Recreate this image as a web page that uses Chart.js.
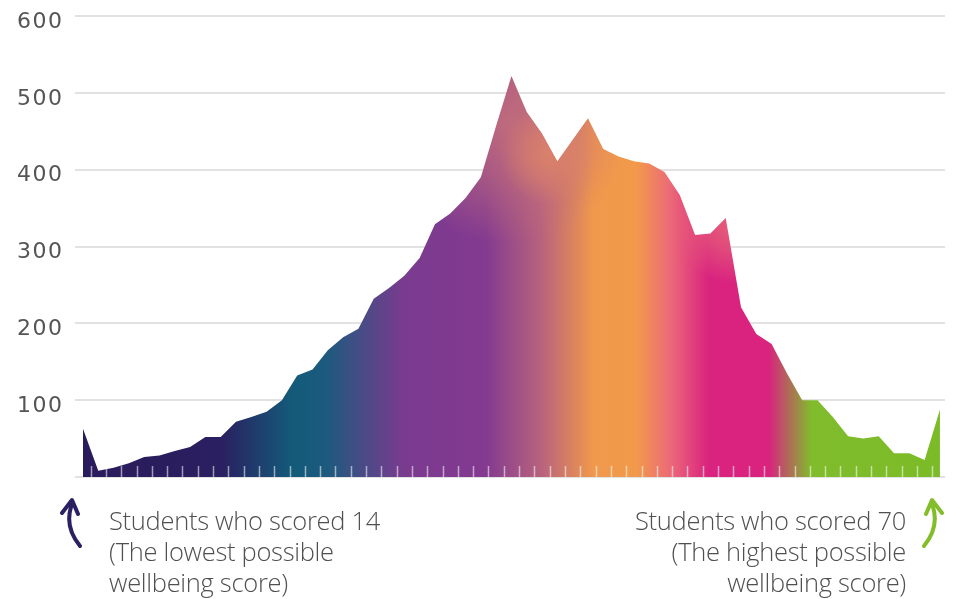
<!DOCTYPE html>
<html>
<head>
<meta charset="utf-8">
<script src="https://cdn.jsdelivr.net/npm/chart.js@4.4.0/dist/chart.umd.min.js"></script>
<style>
  html, body { margin: 0; padding: 0; background: #fff; }
  #wrap { position: relative; width: 953px; height: 599px; }
  #arrows { position: absolute; left: 0; top: 0; }
  .note {
    position: absolute;
    font-family: 'Open Sans', sans-serif;
    font-weight: 300;
    font-size: 25.5px;
    line-height: 31px;
    letter-spacing: -0.3px;
    color: #505050;
    white-space: nowrap;
  }
</style>
</head>
<body>
<div id="wrap">
  <canvas id="wellbeingChart" width="953" height="599"></canvas>
  <svg id="arrows" width="953" height="599">
    <path d="M80 546 C 70 534, 66 520, 72 504" fill="none" stroke="#2b2162" stroke-width="4" stroke-linecap="round"/>
    <path d="M62 513 L72 500 L78 514" fill="none" stroke="#2b2162" stroke-width="4" stroke-linecap="round" stroke-linejoin="round"/>
    <path d="M924 546 C 934 534, 938 520, 932 504" fill="none" stroke="#84bd2a" stroke-width="4" stroke-linecap="round"/>
    <path d="M942 513 L932 500 L926 514" fill="none" stroke="#84bd2a" stroke-width="4" stroke-linecap="round" stroke-linejoin="round"/>
  </svg>
  <div class="note" style="left:109px; top:505px;">Students who scored 14<br>(The lowest possible<br>wellbeing score)</div>
  <div class="note" style="right:47px; top:505px; text-align:right;">Students who scored 70<br>(The highest possible<br>wellbeing score)</div>
</div>
<script>
// wellbeing score (14 = lowest, 70 = highest)
var scores = [14, 15, 16, 17, 18, 19, 20, 21, 22, 23, 24, 25, 26, 27, 28, 29, 30, 31, 32,
              33, 34, 35, 36, 37, 38, 39, 40, 41, 42, 43, 44, 45, 46, 47, 48, 49, 50, 51,
              52, 53, 54, 55, 56, 57, 58, 59, 60, 61, 62, 63, 64, 65, 66, 67, 68, 69, 70];
// number of students with each score
var students = [63, 8, 12, 18, 26, 28, 34, 39, 52, 52, 72, 78, 85, 100, 132, 140, 165, 182, 193,
                232, 246, 262, 285, 329, 343, 363, 390, 457, 522, 475, 447, 411, 439, 467, 427, 417, 411, 408,
                397, 367, 315, 317, 337, 221, 186, 173, 135, 100, 100, 78, 53, 50, 53, 31, 31, 22, 88];
var yTicks = [0, 100, 200, 300, 400, 500, 600];

// colour bands of the fill, left to right
var fillStops = [
  [0.00, '#2a1b5c'],
  [0.16, '#2a1f60'],
  [0.245, '#135b79'],
  [0.285, '#1d5a7e'],
  [0.375, '#7a3b8f'],
  [0.47, '#833a90'],
  [0.535, '#b8637d'],
  [0.595, '#f0984c'],
  [0.645, '#f29a4a'],
  [0.685, '#ec6a78'],
  [0.73, '#d9237f'],
  [0.80, '#d9237f'],
  [0.85, '#80bc2c'],
  [1.00, '#7cbb28']
];
// soft colour patches that tint the top of the fill: [score, value, radius in px, colour]
var tintPatches = [
  [41.8, 460, 120, '198,112,122'],
  [44.5, 420, 50, '222,132,104'],
  [56.5, 330, 60, '232,104,120']
];

var fillCache = null;
function areaFill(chart) {
  var key = chart.width + 'x' + chart.height;
  if (fillCache && fillCache.key === key) return fillCache.pattern;
  var xs = chart.scales.x, ys = chart.scales.y;
  var off = document.createElement('canvas');
  off.width = chart.width;
  off.height = chart.height;
  var c = off.getContext('2d');
  var g = c.createLinearGradient(xs.getPixelForValue(scores[0]), 0,
                                 xs.getPixelForValue(scores[scores.length - 1]), 0);
  fillStops.forEach(function(s) { g.addColorStop(s[0], s[1]); });
  c.fillStyle = g;
  c.fillRect(0, 0, off.width, off.height);
  tintPatches.forEach(function(p) {
    var px = xs.getPixelForValue(p[0]), py = ys.getPixelForValue(p[1]);
    var r = c.createRadialGradient(px, py, 0, px, py, p[2]);
    r.addColorStop(0, 'rgba(' + p[3] + ',0.85)');
    r.addColorStop(0.45, 'rgba(' + p[3] + ',0.55)');
    r.addColorStop(1, 'rgba(' + p[3] + ',0)');
    c.fillStyle = r;
    c.fillRect(0, 0, off.width, off.height);
  });
  fillCache = { key: key, pattern: chart.ctx.createPattern(off, 'no-repeat') };
  return fillCache.pattern;
}

var tickMarks = {
  id: 'tickMarks',
  beforeDraw: function(chart) {
    chart.ctx.letterSpacing = '1.5px';
  },
  afterDatasetsDraw: function(chart) {
    var ctx = chart.ctx;
    var x = chart.scales.x;
    var bottom = chart.chartArea.bottom;
    ctx.save();
    ctx.strokeStyle = 'rgba(255,255,255,0.55)';
    ctx.lineWidth = 1.5;
    for (var i = 0; i < scores.length - 1; i++) {
      var px = Math.round(x.getPixelForValue(scores[i] + 0.5)) + 0.5;
      ctx.beginPath();
      ctx.moveTo(px, bottom - 11);
      ctx.lineTo(px, bottom);
      ctx.stroke();
    }
    ctx.restore();
  }
};

var ctx = document.getElementById('wellbeingChart').getContext('2d');
var myChart = new Chart(ctx, {
  type: 'line',
  data: {
    datasets: [{
      data: scores.map(function(s, i) { return { x: s, y: students[i] }; }),
      fill: 'origin',
      borderWidth: 0,
      pointRadius: 0,
      tension: 0,
      backgroundColor: function(context) {
        var chart = context.chart;
        if (!chart.chartArea) return '#833a90';
        return areaFill(chart);
      }
    }]
  },
  options: {
    responsive: false,
    animation: false,
    layout: { padding: { top: 16, right: 8, bottom: 122, left: 0 } },
    plugins: { legend: { display: false }, tooltip: { enabled: false } },
    scales: {
      x: {
        type: 'linear',
        min: 13.48,
        max: 70.33,
        ticks: { display: false },
        grid: { display: false },
        border: { display: false },
        afterFit: function(scale) { scale.height = 0; scale.paddingLeft = 0; scale.paddingRight = 0; }
      },
      y: {
        min: 0,
        max: 600,
        afterBuildTicks: function(scale) {
          scale.ticks = yTicks.map(function(v) { return { value: v }; });
        },
        afterFit: function(scale) { scale.width = 75; scale.paddingTop = 0; scale.paddingBottom = 0; },
        ticks: {
          padding: 11.5,
          labelOffset: 6,
          color: '#555555',
          font: { family: 'DejaVu Sans', weight: 'normal', size: 22 },
          callback: function(v) { return v === 0 ? '' : v; }
        },
        grid: { color: '#e2e2e2', lineWidth: 2, drawTicks: false },
        border: { display: false }
      }
    }
  },
  plugins: [tickMarks]
});
</script>
</body>
</html>
